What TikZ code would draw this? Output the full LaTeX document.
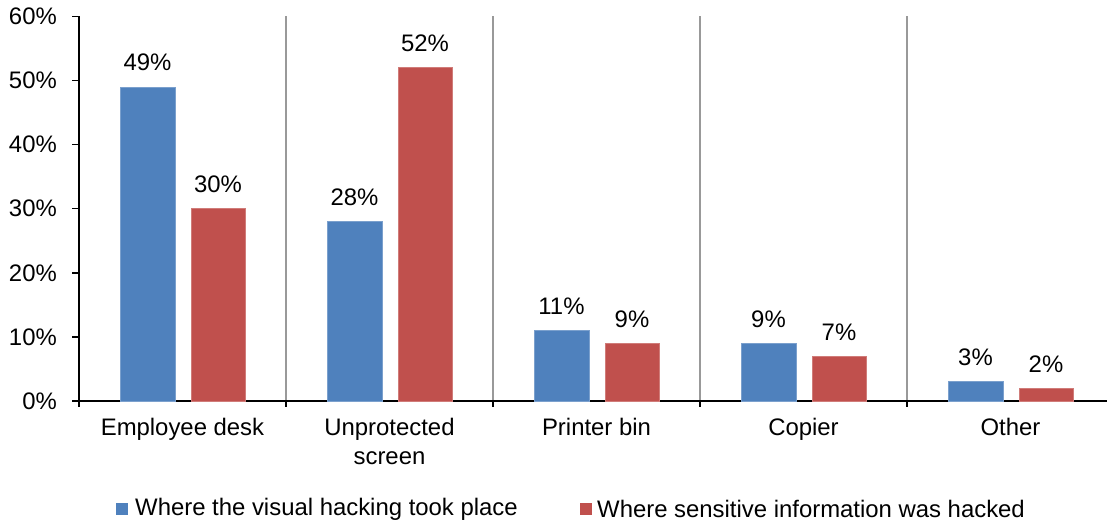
\documentclass[tikz,border=0pt]{standalone}
\usepackage{fontspec}
\setmainfont{Liberation Sans}
\usetikzlibrary{positioning}
\definecolor{hackblue}{HTML}{4F81BD}
\definecolor{hackred}{HTML}{C0504D}

\begin{document}
\begin{tikzpicture}[x=0.02cm,y=0.02cm,font=\fontsize{13.6}{16.4}\selectfont,
	bar/.style={fill=#1,draw=#1!75!white,line width=0.4pt},
	val/.style={anchor=base},
	cat/.style={anchor=north,align=center}]
\useasboundingbox (0,0) rectangle (1107,522);
% grey separators between the groups
\foreach \s in {286,493,700,907} {
	\draw[gray!80,line width=0.8pt] (\s,121) -- (\s,506);
	\draw[line width=0.8pt] (\s,121) -- (\s,115);
	};
% axes and ticks
\draw[line width=0.8pt] (79,506) -- (79,115) (79,121) -- (1107,121);
\foreach \p in {0,10,...,60} {
	\draw[line width=0.8pt] (72,121+6.41*\p) -- (79,121+6.41*\p);
	\node[anchor=east] (t\p) at (63,121+6.41*\p) {\p\%};
	};
% bars with their values
\foreach \g/\b/\r in {0/49/30, 1/28/52, 2/11/9, 3/9/7, 4/3/2} {
	\path[bar=hackblue] (120+207*\g,121) rectangle (175+207*\g,121+6.41*\b);
	\path[bar=hackred] (191+207*\g,121) rectangle (245+207*\g,121+6.41*\r);
	\node[val] (vb\g) at (147.5+207*\g,137+6.41*\b) {\b\%};
	\node[val] (vr\g) at (218+207*\g,137+6.41*\r) {\r\%};
	};
% category names
\foreach \g/\name in {0/Employee desk, 1/Unprotected\\screen, 2/Printer bin, 3/Copier, 4/Other} {
	\node[cat] (c\g) at (182.5+207*\g,110) {\name};
	};
% legend
\fill[hackblue] (116,7) rectangle (128,19);
\node[anchor=west] (l1) at (129,13) {Where the visual hacking took place};
\fill[hackred] (580,7) rectangle (592,19);
\node[anchor=west] (l2) at (591,13) {Where sensitive information was hacked};
\end{tikzpicture}
\end{document}
